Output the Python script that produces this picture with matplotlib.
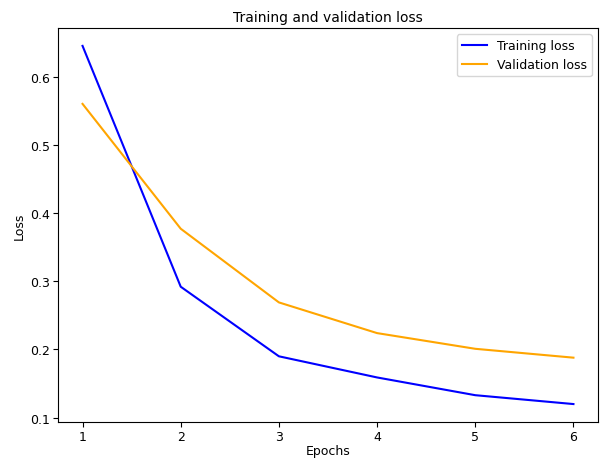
import matplotlib
matplotlib.use("Agg")
import matplotlib.pyplot as plt

epochs = [1, 2, 3, 4, 5, 6]
training_loss = [0.645, 0.292, 0.190, 0.159, 0.133, 0.120]
validation_loss = [0.560, 0.377, 0.269, 0.224, 0.201, 0.188]

fig = plt.figure(figsize=(6.01, 4.60), dpi=100)
ax = fig.add_axes([0.0965, 0.0805, 0.8985, 0.8565])
ax.plot(epochs, training_loss, color="blue", label="Training loss")
ax.plot(epochs, validation_loss, color="orange", label="Validation loss")
ax.set_title("Training and validation loss", fontsize=10, pad=5)
ax.set_xlabel("Epochs", fontsize=9, labelpad=1)
ax.set_ylabel("Loss", fontsize=9, labelpad=3)
ax.tick_params(labelsize=9, pad=2)
ax.legend(fontsize=9)
fig.savefig("out.png", dpi=100)
